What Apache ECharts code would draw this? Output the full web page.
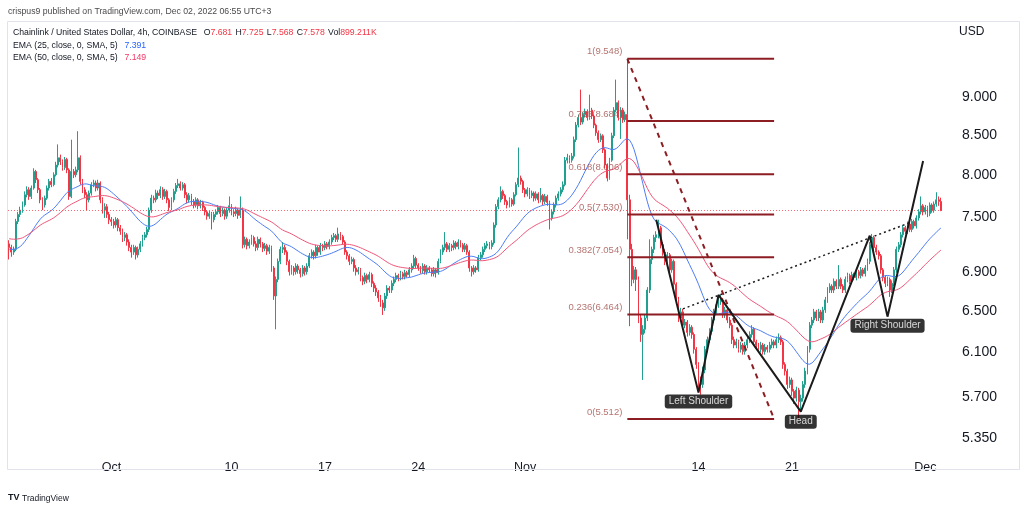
<!DOCTYPE html>
<html><head><meta charset="utf-8">
<script src="https://cdn.jsdelivr.net/npm/echarts@6/dist/echarts.min.js"></script>
<style>html,body{margin:0;padding:0;background:#fff}#c{width:1024px;height:511px}</style>
</head><body><div id="c"></div><script>
// ---- data (4h candles, LINK/USD, Coinbase) ----
const startUTC = [2022, 8, 23, 8]; // first candle: 2022-09-23 08:00
const opens = [7.20,7.16,7.11,7.14,7.45,7.53,7.58,7.64,7.76,7.82,
7.74,7.84,8.04,7.94,7.82,7.70,7.64,7.72,7.84,7.92,
7.88,8.00,8.12,8.21,8.16,8.09,8.19,8.06,7.74,8.04,
8.00,8.06,8.21,7.92,7.82,7.76,7.70,7.78,7.88,7.90,
7.84,7.90,7.70,7.58,7.62,7.53,7.47,7.45,7.41,7.47,
7.38,7.34,7.27,7.30,7.22,7.16,7.11,7.16,7.08,7.14,
7.20,7.27,7.30,7.36,7.58,7.72,7.70,7.78,7.75,7.82,
7.74,7.80,7.70,7.61,7.70,7.80,7.87,7.89,7.84,7.88,
7.76,7.70,7.75,7.68,7.64,7.70,7.63,7.67,7.61,7.56,
7.51,7.54,7.47,7.53,7.56,7.61,7.54,7.58,7.51,7.58,
7.63,7.56,7.54,7.58,7.52,7.58,7.19,7.25,7.18,7.22,
7.27,7.20,7.16,7.25,7.20,7.15,7.18,7.12,7.16,6.94,
6.65,6.82,7.01,7.14,7.16,7.11,7.01,6.90,6.94,6.90,
6.96,6.92,6.88,6.94,6.90,6.96,7.07,7.11,7.07,7.16,
7.11,7.18,7.16,7.20,7.17,7.22,7.27,7.29,7.25,7.31,
7.28,7.22,7.11,7.07,7.01,7.03,6.94,6.90,6.92,6.84,
6.80,6.86,6.82,6.87,6.78,6.73,6.69,6.63,6.58,6.53,
6.65,6.73,6.71,6.78,6.82,6.86,6.84,6.88,6.85,6.89,
6.87,6.92,6.96,7.04,6.97,6.94,6.91,6.96,6.90,6.94,
6.92,6.88,6.92,6.89,7.01,7.11,7.16,7.20,7.14,7.18,
7.16,7.21,7.17,7.22,7.19,7.14,7.18,7.11,6.94,6.90,
6.94,6.92,7.05,7.08,7.14,7.18,7.20,7.17,7.21,7.41,
7.62,7.70,7.80,7.75,7.68,7.64,7.70,7.65,7.76,7.88,
7.96,7.92,7.82,7.77,7.82,7.75,7.78,7.72,7.77,7.70,
7.75,7.68,7.74,7.67,7.49,7.56,7.64,7.72,7.77,7.82,
7.88,8.18,8.21,8.18,8.23,8.44,8.63,8.73,8.67,8.77,
8.81,8.73,8.83,8.75,8.63,8.53,8.44,8.49,8.31,8.12,
7.96,8.18,8.49,8.83,8.93,8.73,8.83,8.70,8.77,7.70,
7.14,6.82,6.92,6.82,6.43,6.27,6.32,6.43,6.71,7.03,
7.14,7.27,7.30,7.38,7.19,7.11,7.01,7.08,6.92,7.01,
6.77,6.61,6.43,6.49,6.36,6.39,6.29,6.34,6.27,6.13,
5.99,5.85,5.81,5.94,6.13,6.22,6.30,6.41,6.49,6.56,
6.59,6.61,6.46,6.51,6.41,6.36,6.22,6.17,6.20,6.13,
6.17,6.11,6.17,6.22,6.27,6.32,6.20,6.17,6.13,6.17,
6.11,6.15,6.13,6.17,6.20,6.17,6.22,6.24,6.20,5.99,
5.93,5.81,5.85,5.75,5.69,5.76,5.66,5.69,5.81,5.93,
6.13,6.36,6.41,6.49,6.43,6.49,6.41,6.51,6.61,6.71,
6.75,6.71,6.80,6.75,6.82,6.75,6.71,6.82,6.86,6.80,
6.87,6.84,6.90,6.86,6.92,6.88,6.94,7.01,7.19,7.27,
7.16,7.11,7.07,6.92,6.84,6.78,6.82,6.71,6.78,6.92,
7.14,7.19,7.30,7.38,7.34,7.42,7.36,7.45,7.40,7.49,
7.56,7.63,7.56,7.61,7.54,7.64,7.58,7.65,7.70,7.681];
const highs = [7.24,7.19,7.17,7.48,7.56,7.62,7.68,7.80,7.86,7.85,
7.87,8.08,8.06,7.96,7.84,7.73,7.75,7.87,7.95,7.96,
8.03,8.16,8.38,8.25,8.19,8.22,8.21,8.08,8.44,8.07,
8.10,8.55,8.24,7.95,7.85,7.79,7.81,7.91,7.94,7.93,
7.94,7.92,7.73,7.66,7.65,7.56,7.50,7.48,7.50,7.49,
7.41,7.37,7.33,7.32,7.25,7.19,7.19,7.18,7.17,7.23,
7.30,7.33,7.39,7.61,7.76,7.75,7.82,7.81,7.86,7.85,
7.83,7.82,7.72,7.73,7.83,7.90,7.95,7.92,7.91,7.90,
7.79,7.78,7.77,7.71,7.73,7.72,7.70,7.69,7.63,7.58,
7.57,7.56,7.56,7.59,7.64,7.63,7.61,7.60,7.61,7.74,
7.65,7.59,7.62,7.60,7.74,7.61,7.28,7.27,7.25,7.30,
7.29,7.23,7.28,7.27,7.22,7.21,7.20,7.19,7.18,6.96,
6.85,7.04,7.17,7.22,7.19,7.13,7.03,6.97,6.96,6.99,
6.98,6.94,6.97,6.96,6.99,7.10,7.14,7.13,7.19,7.18,
7.21,7.20,7.23,7.22,7.25,7.30,7.32,7.31,7.38,7.33,
7.30,7.24,7.13,7.09,7.06,7.05,6.97,6.95,6.94,6.86,
6.89,6.88,6.90,6.89,6.80,6.76,6.71,6.66,6.61,6.68,
6.76,6.75,6.81,6.85,6.89,6.88,6.91,6.90,6.92,6.91,
6.95,6.99,7.08,7.06,6.99,6.96,6.99,6.98,6.97,6.96,
6.94,6.95,6.94,7.04,7.14,7.19,7.33,7.22,7.21,7.20,
7.24,7.23,7.25,7.24,7.21,7.21,7.20,7.13,6.96,6.97,
6.96,7.08,7.11,7.17,7.21,7.23,7.22,7.24,7.44,7.65,
7.73,7.86,7.82,7.77,7.70,7.73,7.72,7.79,7.91,8.34,
7.99,7.94,7.84,7.85,7.84,7.81,7.80,7.80,7.79,7.84,
7.77,7.77,7.76,7.69,7.59,7.67,7.75,7.80,7.85,7.92,
8.22,8.26,8.24,8.27,8.48,8.67,8.77,9.11,8.80,8.85,
8.84,9.04,8.86,8.77,8.65,8.56,8.52,8.51,8.33,8.14,
8.21,8.53,8.87,9.25,8.96,8.87,8.86,8.81,9.548,7.76,
7.20,6.96,6.95,6.85,6.46,6.36,6.46,6.74,7.25,7.17,
7.30,7.34,7.47,7.40,7.22,7.14,7.11,7.10,7.04,7.03,
6.79,6.64,6.53,6.52,6.42,6.41,6.37,6.36,6.29,6.15,
6.01,5.88,5.97,6.16,6.25,6.33,6.44,6.52,6.59,6.64,
6.66,6.63,6.54,6.53,6.44,6.38,6.25,6.23,6.22,6.20,
6.19,6.20,6.25,6.30,6.36,6.34,6.22,6.19,6.20,6.19,
6.18,6.17,6.20,6.23,6.22,6.25,6.28,6.26,6.22,6.01,
5.95,5.88,5.87,5.77,5.79,5.78,5.72,5.84,5.96,6.16,
6.39,6.44,6.52,6.51,6.52,6.51,6.54,6.64,6.74,6.78,
6.77,6.83,6.82,6.97,6.84,6.77,6.85,6.89,6.88,6.90,
6.89,6.93,6.92,6.95,6.94,6.97,7.04,7.22,7.31,7.29,
7.19,7.13,7.09,6.94,6.86,6.85,6.84,6.81,6.95,7.17,
7.22,7.33,7.41,7.40,7.45,7.44,7.48,7.47,7.52,7.59,
7.74,7.65,7.64,7.63,7.67,7.66,7.68,7.79,7.74,7.725];
const lows = [7.03,7.06,7.08,7.12,7.42,7.50,7.55,7.62,7.73,7.70,
7.71,7.82,7.90,7.78,7.66,7.58,7.61,7.70,7.81,7.85,
7.86,7.98,8.09,8.12,8.05,8.06,8.02,7.70,7.72,7.96,
7.97,8.03,7.88,7.78,7.72,7.58,7.67,7.75,7.85,7.80,
7.81,7.66,7.54,7.49,7.49,7.42,7.40,7.37,7.38,7.34,
7.30,7.22,7.23,7.18,7.12,7.05,7.08,7.03,7.05,7.11,
7.17,7.24,7.27,7.33,7.55,7.66,7.67,7.71,7.72,7.70,
7.71,7.66,7.57,7.58,7.67,7.77,7.84,7.81,7.81,7.72,
7.66,7.67,7.64,7.60,7.61,7.59,7.60,7.57,7.52,7.47,
7.48,7.36,7.44,7.50,7.53,7.50,7.51,7.47,7.48,7.55,
7.52,7.50,7.51,7.48,7.49,7.15,7.16,7.14,7.15,7.19,
7.17,7.12,7.13,7.16,7.11,7.12,7.08,7.09,6.90,6.61,
6.32,6.79,6.98,7.10,7.08,6.97,6.86,6.87,6.86,6.87,
6.88,6.84,6.85,6.86,6.87,6.94,7.04,7.03,7.04,7.07,
7.08,7.12,7.13,7.14,7.14,7.19,7.24,7.22,7.22,7.24,
7.19,7.08,7.03,6.97,6.98,6.90,6.86,6.87,6.80,6.76,
6.77,6.78,6.79,6.74,6.69,6.65,6.59,6.54,6.46,6.50,
6.62,6.68,6.68,6.75,6.79,6.80,6.81,6.82,6.82,6.84,
6.84,6.89,6.93,6.94,6.91,6.88,6.88,6.87,6.87,6.89,
6.85,6.85,6.84,6.87,6.99,7.08,7.13,7.11,7.11,7.12,
7.13,7.14,7.14,7.16,7.11,7.11,7.08,6.90,6.85,6.87,
6.89,6.90,7.02,7.05,7.11,7.15,7.14,7.14,7.19,7.38,
7.59,7.67,7.71,7.64,7.60,7.61,7.62,7.63,7.74,7.85,
7.88,7.78,7.73,7.74,7.71,7.72,7.68,7.69,7.66,7.67,
7.64,7.65,7.63,7.36,7.46,7.53,7.61,7.69,7.74,7.79,
7.86,8.14,8.14,8.15,8.20,8.41,8.60,8.63,8.64,8.73,
8.69,8.70,8.71,8.59,8.49,8.40,8.41,8.27,8.08,7.92,
7.94,8.16,8.46,8.80,8.69,8.45,8.66,8.67,7.25,6.35,
6.75,6.78,6.70,6.38,6.20,5.85,6.28,6.40,6.68,6.98,
7.10,7.22,7.26,7.15,7.07,6.97,6.98,6.88,6.89,6.73,
6.57,6.39,6.40,6.32,6.33,6.25,6.26,6.23,6.09,5.95,
5.74,5.72,5.78,5.91,6.10,6.19,6.27,6.38,6.46,6.53,
6.56,6.43,6.43,6.38,6.33,6.18,6.14,6.14,6.10,6.10,
6.08,6.08,6.14,6.19,6.24,6.17,6.14,6.10,6.10,6.08,
6.08,6.10,6.10,6.14,6.14,6.14,6.19,6.17,5.95,5.89,
5.77,5.78,5.71,5.64,5.66,5.512,5.57,5.66,5.78,5.90,
6.10,6.33,6.38,6.40,6.40,6.38,6.38,6.48,6.58,6.68,
6.68,6.68,6.72,6.72,6.72,6.68,6.68,6.79,6.77,6.77,
6.81,6.81,6.83,6.83,6.85,6.85,6.91,6.98,7.16,7.13,
7.08,7.03,6.88,6.80,6.74,6.75,6.64,6.68,6.75,6.89,
7.11,7.16,7.27,7.31,7.31,7.33,7.33,7.37,7.37,7.46,
7.53,7.52,7.53,7.50,7.51,7.55,7.55,7.62,7.63,7.568];
const closes = [7.16,7.11,7.14,7.45,7.53,7.58,7.64,7.76,7.82,7.74,
7.84,8.04,7.94,7.82,7.70,7.64,7.72,7.84,7.92,7.88,
8.00,8.12,8.21,8.16,8.09,8.19,8.06,7.74,8.04,8.00,
8.06,8.21,7.92,7.82,7.76,7.70,7.78,7.88,7.90,7.84,
7.90,7.70,7.58,7.62,7.53,7.47,7.45,7.41,7.47,7.38,
7.34,7.27,7.30,7.22,7.16,7.11,7.16,7.08,7.14,7.20,
7.27,7.30,7.36,7.58,7.72,7.70,7.78,7.75,7.82,7.74,
7.80,7.70,7.61,7.70,7.80,7.87,7.89,7.84,7.88,7.76,
7.70,7.75,7.68,7.64,7.70,7.63,7.67,7.61,7.56,7.51,
7.54,7.47,7.53,7.56,7.61,7.54,7.58,7.51,7.58,7.63,
7.56,7.54,7.58,7.52,7.58,7.19,7.25,7.18,7.22,7.27,
7.20,7.16,7.25,7.20,7.15,7.18,7.12,7.16,6.94,6.65,
6.82,7.01,7.14,7.16,7.11,7.01,6.90,6.94,6.90,6.96,
6.92,6.88,6.94,6.90,6.96,7.07,7.11,7.07,7.16,7.11,
7.18,7.16,7.20,7.17,7.22,7.27,7.29,7.25,7.31,7.28,
7.22,7.11,7.07,7.01,7.03,6.94,6.90,6.92,6.84,6.80,
6.86,6.82,6.87,6.78,6.73,6.69,6.63,6.58,6.53,6.65,
6.73,6.71,6.78,6.82,6.86,6.84,6.88,6.85,6.89,6.87,
6.92,6.96,7.04,6.97,6.94,6.91,6.96,6.90,6.94,6.92,
6.88,6.92,6.89,7.01,7.11,7.16,7.20,7.14,7.18,7.16,
7.21,7.17,7.22,7.19,7.14,7.18,7.11,6.94,6.90,6.94,
6.92,7.05,7.08,7.14,7.18,7.20,7.17,7.21,7.41,7.62,
7.70,7.80,7.75,7.68,7.64,7.70,7.65,7.76,7.88,7.96,
7.92,7.82,7.77,7.82,7.75,7.78,7.72,7.77,7.70,7.75,
7.68,7.74,7.67,7.49,7.56,7.64,7.72,7.77,7.82,7.88,
8.18,8.21,8.18,8.23,8.44,8.63,8.73,8.67,8.77,8.81,
8.73,8.83,8.75,8.63,8.53,8.44,8.49,8.31,8.12,7.96,
8.18,8.49,8.83,8.93,8.73,8.83,8.70,8.77,7.70,7.14,
6.82,6.92,6.82,6.43,6.27,6.32,6.43,6.71,7.03,7.14,
7.27,7.30,7.38,7.19,7.11,7.01,7.08,6.92,7.01,6.77,
6.61,6.43,6.49,6.36,6.39,6.29,6.34,6.27,6.13,5.99,
5.85,5.81,5.94,6.13,6.22,6.30,6.41,6.49,6.56,6.59,
6.61,6.46,6.51,6.41,6.36,6.22,6.17,6.20,6.13,6.17,
6.11,6.17,6.22,6.27,6.32,6.20,6.17,6.13,6.17,6.11,
6.15,6.13,6.17,6.20,6.17,6.22,6.24,6.20,5.99,5.93,
5.81,5.85,5.75,5.69,5.76,5.66,5.69,5.81,5.93,6.13,
6.36,6.41,6.49,6.43,6.49,6.41,6.51,6.61,6.71,6.75,
6.71,6.80,6.75,6.82,6.75,6.71,6.82,6.86,6.80,6.87,
6.84,6.90,6.86,6.92,6.88,6.94,7.01,7.19,7.27,7.16,
7.11,7.07,6.92,6.84,6.78,6.82,6.71,6.78,6.92,7.14,
7.19,7.30,7.38,7.34,7.42,7.36,7.45,7.40,7.49,7.56,
7.63,7.56,7.61,7.54,7.64,7.58,7.65,7.70,7.681,7.578];

// EMA seeds at its left edge
const ema25Seed = 7.14, ema50Seed = 7.26;
const lastPrice = 7.578;

// axes
const xTickDates = ['2022-10-01 00:00','2022-10-10 00:00','2022-10-17 00:00','2022-10-24 00:00','2022-11-01 00:00','2022-11-14 00:00','2022-11-21 00:00','2022-12-01 00:00'];
const xTickLabels = ['Oct','10','17','24','Nov','14','21','Dec'];
const yTicks = [5.35, 5.7, 6.1, 6.5, 6.9, 7.5, 8.0, 8.5, 9.0];

// Fibonacci retracement tool
const fibHigh = 9.548, fibLow = 5.512;
const fibRatios = [1, 0.786, 0.618, 0.5, 0.382, 0.236, 0];
const fibStart = '2022-11-08 16:00', fibEnd = '2022-11-19 16:00';

// inverse head & shoulders drawing
const patternDates = ['2022-11-10 20:00','2022-11-14 00:00','2022-11-15 12:00','2022-11-21 16:00','2022-11-26 20:00','2022-11-28 04:00','2022-11-30 20:00'];
const patternPrices = [7.47, 5.738, 6.66, 5.574, 7.29, 6.443, 8.17];
const necklineDates = ['2022-11-12 20:00','2022-11-29 20:00'];
const necklinePrices = [6.52, 7.436];
const tagNames = ['Left Shoulder','Head','Right Shoulder'];
const tagDates = ['2022-11-14 00:00','2022-11-21 16:00','2022-11-28 04:00'];
const tagPrices = [5.66, 5.489, 6.355];

// ---- build ----
const cats = [];
const t0 = Date.UTC(startUTC[0], startUTC[1], startUTC[2], startUTC[3]);
for (let i = 0; i < closes.length; i++) {
  const d = new Date(t0 + i * 4 * 3600e3);
  cats.push(d.toISOString().slice(0, 13).replace('T', ' ') + ':00');
}
const candles = cats.map((_, i) => [opens[i], closes[i], lows[i], highs[i]]);
function ema(arr, n, seed) { const k = 2 / (n + 1); let e = seed; return arr.map(v => (e = v * k + e * (1 - k))); }
function sma(arr, n) { return arr.map((v, i) => { let s = 0, c = 0; for (let j = Math.max(0, i - n + 1); j <= i; j++) { s += arr[j]; c++; } return +(s / c).toFixed(4); }); }
const ema25 = sma(ema(closes, 25, ema25Seed), 5);
const ema50 = sma(ema(closes, 50, ema50Seed), 5);

const FONT = '"Liberation Sans", Arial, sans-serif';
const fibColor = '#8c1d22', fibText = '#a0504c';
const fibPrices = fibRatios.map(r => fibLow + r * (fibHigh - fibLow));
const fibSeries = fibPrices.map(p => ({
  type: 'line', silent: true, symbol: 'none', z: 5,
  lineStyle: { color: fibColor, width: 2 },
  data: [[fibStart, p], [fibEnd, p]]
}));
const fibLabelSeries = {
  type: 'scatter', silent: true, symbolSize: 0, z: 9,
  data: fibRatios.map((r, i) => ({ name: r + '(' + fibPrices[i].toFixed(3) + ')', value: [fibStart, fibPrices[i]] })),
  label: { show: true, position: 'left', distance: 5, offset: [0, -7], formatter: '{b}', color: fibText, fontSize: 9.5, fontFamily: FONT }
};

const chart = echarts.init(document.getElementById('c'), null, { renderer: 'canvas' });
chart.setOption({
  animation: false,
  backgroundColor: '#ffffff',
  grid: { left: 8, right: 82, top: 22, bottom: 59 },
  xAxis: {
    type: 'category', data: cats, boundaryGap: true,
    axisLine: { show: false }, axisTick: { show: false }, splitLine: { show: false },
    axisLabel: {
      interval: (idx, v) => xTickDates.indexOf(v) >= 0,
      formatter: v => xTickLabels[xTickDates.indexOf(v)] || '',
      color: '#131722', fontSize: 12.5, fontFamily: FONT, margin: 9
    }
  },
  yAxis: {
    type: 'log', logBase: 10, position: 'right', min: 5.241, max: 10.10, scale: true,
    axisLine: { show: false }, axisTick: { show: false }, splitLine: { show: false },
    axisLabel: { customValues: yTicks, formatter: v => Number(v).toFixed(3), color: '#131722', fontSize: 14, fontFamily: FONT, margin: 20, align: 'left' }
  },
  series: [
    {
      type: 'candlestick', data: candles, barWidth: 1.4, z: 2,
      itemStyle: { color: '#22a08f', color0: '#f23645', borderColor: '#22a08f', borderColor0: '#f23645', borderWidth: 1 },
      markLine: { silent: true, symbol: ['none', 'none'], label: { show: false }, lineStyle: { color: '#f23645', type: [1, 2], width: 1, opacity: 0.75 }, data: [{ yAxis: lastPrice }] }
    },
    { type: 'line', data: ema25, symbol: 'none', smooth: false, z: 3, lineStyle: { color: '#4c7df5', width: 1 } },
    { type: 'line', data: ema50, symbol: 'none', smooth: false, z: 3, lineStyle: { color: '#f0567a', width: 1 } },
    ...fibSeries,
    fibLabelSeries,
    { type: 'line', silent: true, symbol: 'none', z: 6, lineStyle: { color: fibColor, width: 2, type: [5, 5] }, data: [[fibStart, fibHigh], [fibEnd, fibLow]] },
    { type: 'line', silent: true, symbol: 'none', z: 7, lineStyle: { color: '#1b1b1b', width: 2 }, data: patternDates.map((d, i) => [d, patternPrices[i]]) },
    { type: 'line', silent: true, symbol: 'none', z: 7, lineStyle: { color: '#1b1b1b', width: 1.5, type: [2, 3] }, data: necklineDates.map((d, i) => [d, necklinePrices[i]]) },
    {
      type: 'scatter', silent: true, symbolSize: 0, z: 8,
      data: tagNames.map((n, i) => ({ name: n, value: [tagDates[i], tagPrices[i]] })),
      label: { show: true, position: 'inside', formatter: '{b}', color: '#ffffff', backgroundColor: '#000000', padding: [2, 4, 2, 4], borderRadius: 3, fontSize: 10, fontFamily: FONT }
    }
  ],
  graphic: [
    { type: 'rect', silent: true, z: 100, shape: { x: 7.5, y: 21.5, width: 1012, height: 448 }, style: { fill: 'none', stroke: '#e0e3eb', lineWidth: 1 } },
    { type: 'text', silent: true, z: 100, x: 8, y: 7, style: { text: 'crispus9 published on TradingView.com, Dec 02, 2022 06:55 UTC+3', fill: '#4a4a4a', font: '8.7px ' + FONT } },
    { type: 'text', silent: true, z: 100, x: 13, y: 27, style: {
        text: '{k|Chainlink / United States Dollar, 4h, COINBASE}  {k|O}{r|7.681} {k|H}{r|7.725} {k|L}{r|7.568} {k|C}{r|7.578} {k|Vol}{r|899.211K}',
        rich: { k: { fill: '#131722', fontSize: 8.7, fontFamily: FONT }, r: { fill: '#f23645', fontSize: 8.7, fontFamily: FONT } } } },
    { type: 'text', silent: true, z: 100, x: 13, y: 40, style: {
        text: '{k|EMA (25, close, 0, SMA, 5)}  {b|7.391}',
        rich: { k: { fill: '#131722', fontSize: 8.7, fontFamily: FONT }, b: { fill: '#2962ff', fontSize: 8.7, fontFamily: FONT } } } },
    { type: 'text', silent: true, z: 100, x: 13, y: 52, style: {
        text: '{k|EMA (50, close, 0, SMA, 5)}  {p|7.149}',
        rich: { k: { fill: '#131722', fontSize: 8.7, fontFamily: FONT }, p: { fill: '#f23665', fontSize: 8.7, fontFamily: FONT } } } },
    { type: 'text', silent: true, z: 100, x: 959, y: 26, style: { text: 'USD', fill: '#131722', font: '12px ' + FONT } },
    { type: 'text', silent: true, z: 100, x: 8, y: 493, style: { text: 'TV', fill: '#131722', font: 'bold 9px ' + FONT } },
    { type: 'text', silent: true, z: 100, x: 22, y: 494, style: { text: 'TradingView', fill: '#131722', font: '8.5px ' + FONT } }
  ]
});
</script></body></html>
